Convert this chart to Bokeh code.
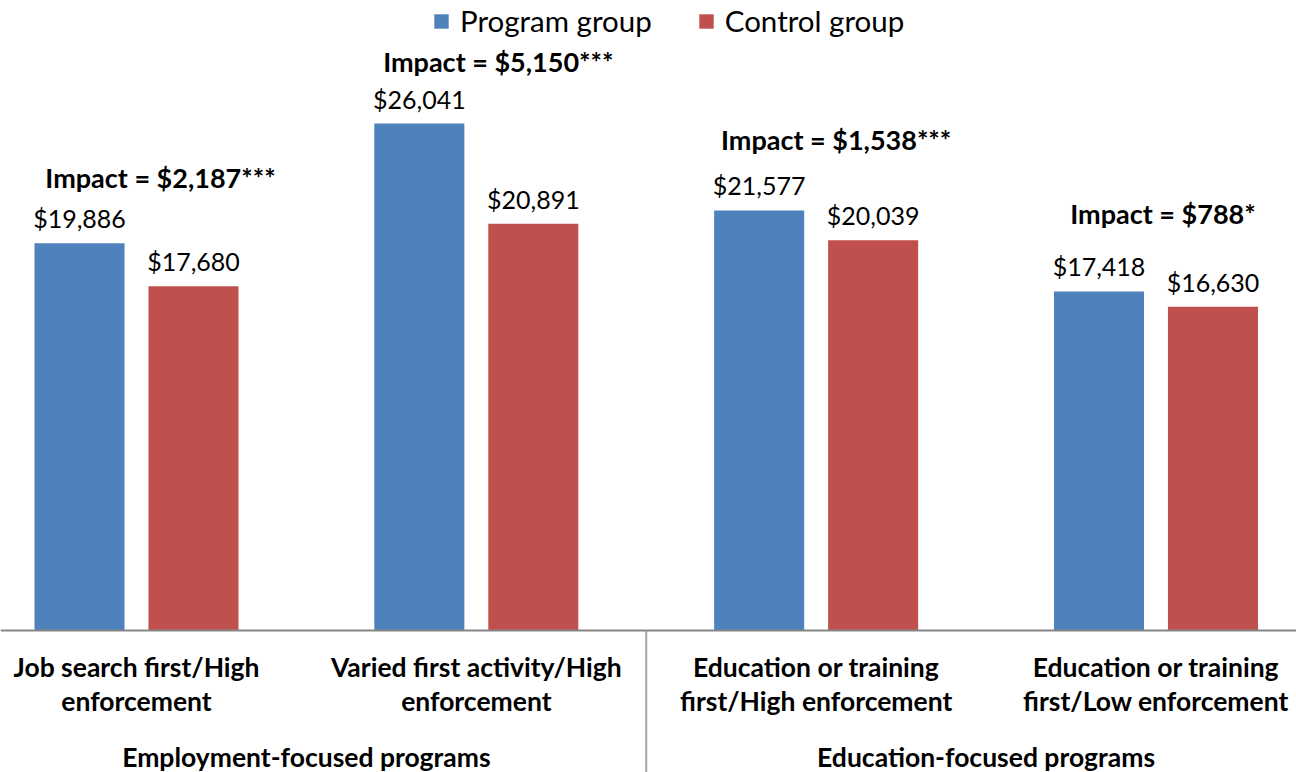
from bokeh.plotting import figure
from bokeh.models import ColumnDataSource, Span, Legend, LegendItem, Range1d
from bokeh.core.properties import value
from bokeh.embed import file_html
from bokeh.resources import INLINE

# ---- data ----
categories = [
    "Job search first/High\nenforcement",
    "Varied first activity/High\nenforcement",
    "Education or training\nfirst/High enforcement",
    "Education or training\nfirst/Low enforcement",
]
groups = ["Employment-focused programs", "Education-focused programs"]
program = [19886, 26041, 21577, 17418]
control = [17680, 20891, 20039, 16630]
impacts = ["Impact = $2,187***", "Impact = $5,150***", "Impact = $1,538***", "Impact = $788*"]

# ---- styling ----
BLUE = "#4F81BD"
RED = "#C0504D"
FONT = "Lato"
W, H = 1296, 772

xc = [i + 1 for i in range(len(categories))]
bar_w = 0.265
off = 0.1677

p = figure(width=W, height=H, output_backend="svg", toolbar_location=None,
           x_range=Range1d(0.5998, 4.4135), y_range=Range1d(-7294, 32359),
           min_border=0, min_border_left=0, min_border_right=0,
           min_border_top=0, min_border_bottom=0)
p.axis.visible = False
p.grid.visible = False
p.outline_line_color = None
p.background_fill_color = "white"
p.border_fill_color = "white"

src = ColumnDataSource(dict(
    x=xc,
    xp=[v - off for v in xc],
    xr=[v + off for v in xc],
    program=program,
    control=control,
    ptxt=["${:,}".format(v) for v in program],
    ctxt=["${:,}".format(v) for v in control],
    impact=impacts,
    line1=[c.split("\n")[0] for c in categories],
    line2=[c.split("\n")[1] for c in categories],
    imp_dx=[24, 22, 20, 7],
    imp_dy=[-66, -62, -71, -78],
))

r1 = p.vbar(x="xp", top="program", width=bar_w, bottom=0, source=src,
            fill_color=BLUE, line_color=None)
r2 = p.vbar(x="xr", top="control", width=bar_w, bottom=0, source=src,
            fill_color=RED, line_color=None)

# value labels
VAL_SIZE = "25px"
p.text(x="xp", y="program", text="ptxt", source=src, text_align="center",
       text_baseline="alphabetic", y_offset=-25, text_font=value(FONT),
       text_font_size=VAL_SIZE, text_color="black")
p.text(x="xr", y="control", text="ctxt", source=src, text_align="center",
       text_baseline="alphabetic", y_offset=-25, text_font=value(FONT),
       text_font_size=VAL_SIZE, text_color="black")

# impact labels
p.text(x="x", y="program", text="impact", source=src, text_align="center",
       text_baseline="alphabetic", x_offset="imp_dx", y_offset="imp_dy",
       text_font=value(FONT), text_font_style="bold", text_font_size="27px",
       text_color="black")

# baseline and separator
p.add_layout(Span(location=0, dimension="width", line_color="#868686", line_width=2))
p.segment(x0=[2.5], y0=[0], x1=[2.5], y1=[-7294], line_color="#A6A6A6", line_width=2)

# category labels
CAT_SIZE = "26.5px"
p.text(x="x", y=0, text="line1", source=src, text_align="center",
       text_baseline="alphabetic", y_offset=37, text_font=value(FONT),
       text_font_style="bold", text_font_size=CAT_SIZE, text_color="black")
p.text(x="x", y=0, text="line2", source=src, text_align="center",
       text_baseline="alphabetic", y_offset=71, text_font=value(FONT),
       text_font_style="bold", text_font_size=CAT_SIZE, text_color="black")

# group labels
gsrc = ColumnDataSource(dict(x=[1.5, 3.5], g=groups))
p.text(x="x", y=0, text="g", source=gsrc, text_align="center",
       text_baseline="alphabetic", y_offset=127, text_font=value(FONT),
       text_font_style="bold", text_font_size=CAT_SIZE, text_color="black")

legend = Legend(items=[LegendItem(label="Program group", renderers=[r1]),
                       LegendItem(label="Control group", renderers=[r2])],
                orientation="horizontal", location=(432, 734),
                glyph_width=18, glyph_height=18, label_standoff=10, spacing=45,
                label_text_font=FONT, label_text_font_size="29.5px",
                label_text_color="black", border_line_color=None,
                background_fill_alpha=0, padding=0, margin=0)
p.add_layout(legend)

open("out.html", "w").write(file_html(p, INLINE))
